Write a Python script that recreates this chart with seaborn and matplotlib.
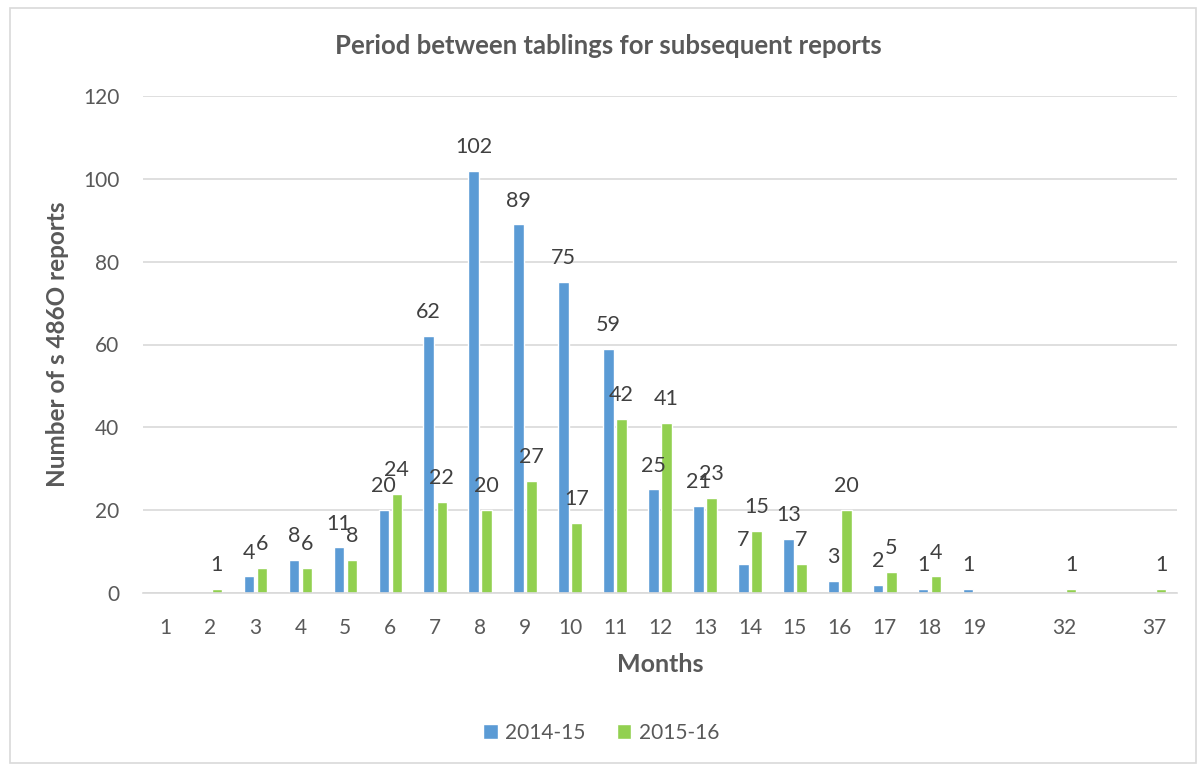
import pandas as pd
import numpy as np
import matplotlib.pyplot as plt
import seaborn as sns
from matplotlib.patches import Rectangle

# month categories; blank slots keep the gaps seen on the axis
month_keys = [str(m) for m in range(1, 20)] + ["gap_a", "32", "gap_b", "37"]
month_labels = [str(m) for m in range(1, 20)] + ["", "32", "", "37"]

n_2014 = [None, None, 4, 8, 11, 20, 62, 102, 89, 75, 59, 25, 21, 7, 13, 3, 2, 1, 1,
          None, None, None, None]
n_2015 = [None, 1, 6, 6, 8, 24, 22, 20, 27, 17, 42, 41, 23, 15, 7, 20, 5, 4, None,
          None, 1, None, 1]

years = ["2014-15", "2015-16"]
colors = ["#5B9BD5", "#92D050"]

df = pd.DataFrame({
    "Month": month_keys * 2,
    "Year": [years[0]] * len(month_keys) + [years[1]] * len(month_keys),
    "Count": [np.nan if v is None else v for v in n_2014 + n_2015],
})

sns.set_theme(style="white")
plt.rcParams["font.family"] = ["Lato", "DejaVu Sans"]

fig = plt.figure(figsize=(12.02, 7.65), dpi=100)
ax = fig.add_axes([143 / 1202, 1 - 593 / 765, (1177 - 143) / 1202, (593 - 96) / 765])

sns.barplot(data=df, x="Month", y="Count", hue="Year", order=month_keys,
            hue_order=years, palette=colors, width=0.58, gap=0.2,
            saturation=1, errorbar=None, ax=ax)

for cont in ax.containers:
    ax.bar_label(cont, fmt="%g", padding=10, fontsize=15.5, color="#404040")

ax.set_ylim(0, 120)
ax.set_yticks(range(0, 121, 20))
ax.set_xticks(range(len(month_labels)))
ax.set_xticklabels(month_labels)
ax.grid(axis="y", color="#D9D9D9", linewidth=1.2)
ax.set_axisbelow(True)
for s in ["left", "right", "top"]:
    ax.spines[s].set_visible(False)
ax.spines["bottom"].set_color("#D9D9D9")
ax.spines["bottom"].set_linewidth(1.2)
ax.tick_params(axis="both", length=0, labelsize=15, labelcolor="#595959")
ax.tick_params(axis="x", pad=18)
ax.tick_params(axis="y", pad=17)

ax.set_xlabel("Months", fontsize=18, fontweight="bold", color="#595959", labelpad=11)
ax.set_ylabel("Number of s 486O reports", fontsize=17.5, fontweight="bold",
              color="#595959", labelpad=10)
fig.text(0.5065, 1 - 46 / 765, "Period between tablings for subsequent reports",
         ha="center", va="center", fontsize=18.5, fontweight="bold", color="#595959")

ax.legend(loc="center", bbox_to_anchor=(0.5, 1 - 733 / 765), bbox_transform=fig.transFigure,
          ncol=2, frameon=False, fontsize=15, handlelength=0.7, handleheight=0.7,
          columnspacing=1.5, handletextpad=0.35, labelcolor="#595959")

fig.patches.append(Rectangle((10 / 1202, 0.002), 1186 / 1202, 1 - 8 / 765 - 0.002,
                             transform=fig.transFigure, fill=False,
                             edgecolor="#D9D9D9", linewidth=1.2))

fig.savefig("out.png", dpi=100)
